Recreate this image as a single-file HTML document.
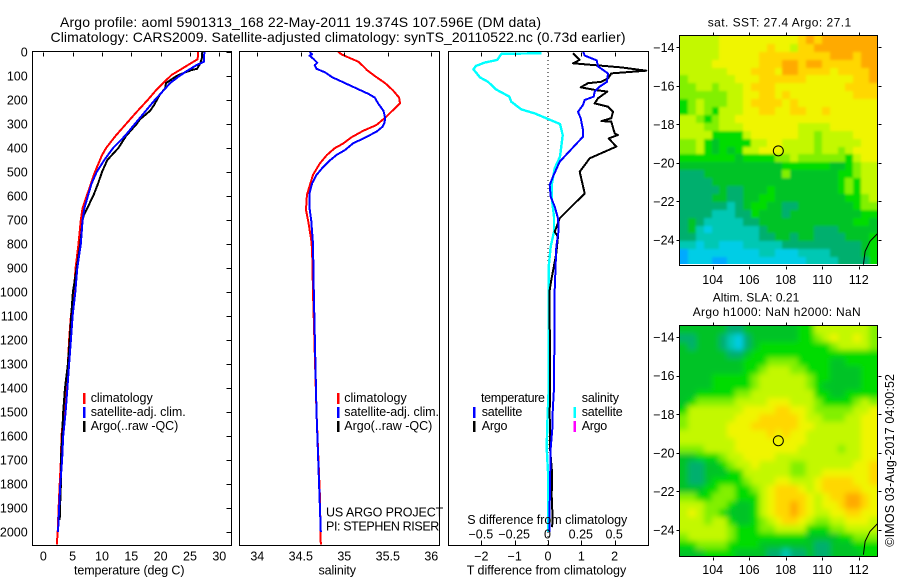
<!DOCTYPE html>
<html lang="en">
<head>
<meta charset="utf-8">
<title>Argo profile 5901313_168</title>
<style>
html,body{margin:0;padding:0;background:#fff;}
svg{display:block;}
text{font-family:"Liberation Sans",sans-serif;font-size:12.5px;fill:#000;}
.frame{fill:none;stroke:#000;stroke-width:1;shape-rendering:crispEdges;}
.tick{stroke:#000;stroke-width:1;shape-rendering:crispEdges;}
.line{fill:none;stroke-width:2;shape-rendering:crispEdges;stroke-linejoin:round;}
.bar{shape-rendering:crispEdges;}
</style>
</head>
<body>
<svg id="chart" xmlns="http://www.w3.org/2000/svg" width="900" height="580" viewBox="0 0 900 580">
<defs>
<clipPath id="sst-clip"><rect x="680" y="36" width="197" height="228"/></clipPath>
<clipPath id="sla-clip"><rect x="680" y="326" width="197" height="231"/></clipPath>
<filter id="sst-soft" filterUnits="userSpaceOnUse" x="640" y="0" width="260" height="300"><feGaussianBlur stdDeviation="1.3"/></filter>
<filter id="sla-soft" filterUnits="userSpaceOnUse" x="640" y="290" width="260" height="290"><feGaussianBlur stdDeviation="3"/></filter>
</defs>
<rect x="0" y="0" width="900" height="580" fill="#fff"/>
<text x="60" y="27" style="font-size:14px" textLength="481" lengthAdjust="spacing">Argo profile: aoml 5901313_168 22-May-2011 19.374S 107.596E (DM data)</text>
<text x="50.5" y="42" style="font-size:14px" textLength="575" lengthAdjust="spacing">Climatology: CARS2009. Satellite-adjusted climatology: synTS_20110522.nc (0.73d earlier)</text>
<g clip-path="url(#sst-clip)"><g id="sst-layer" filter="url(#sst-soft)"></g></g>
<g clip-path="url(#sla-clip)"><g id="sla-layer" filter="url(#sla-soft)"></g></g>
<g id="plot-layer"></g>
<g id="axis-layer"></g>

<text x="74" y="574.5" textLength="110.5" lengthAdjust="spacing">temperature (deg C)</text>
<text x="318.5" y="574.5" textLength="37.5" lengthAdjust="spacing">salinity</text>
<text x="466.7" y="574.5" textLength="159.5" lengthAdjust="spacing">T difference from climatology</text>
<text x="467.3" y="524" textLength="160" lengthAdjust="spacing">S difference from climatology</text>

<g>
<rect class="bar" x="83" y="393" width="2.5" height="11" fill="#ff0000"/>
<rect class="bar" x="83" y="407" width="2.5" height="11" fill="#0000ff"/>
<rect class="bar" x="83" y="421" width="2.5" height="11" fill="#000"/>
<text x="90.7" y="402" textLength="62" lengthAdjust="spacing">climatology</text>
<text x="90.7" y="416" textLength="95" lengthAdjust="spacing">satellite-adj. clim.</text>
<text x="90.7" y="430" textLength="87.6" lengthAdjust="spacing">Argo(..raw -QC)</text>
</g>
<g>
<rect class="bar" x="337" y="393" width="2.5" height="11" fill="#ff0000"/>
<rect class="bar" x="337" y="407" width="2.5" height="11" fill="#0000ff"/>
<rect class="bar" x="337" y="421" width="2.5" height="11" fill="#000"/>
<text x="344.3" y="402" textLength="62.4" lengthAdjust="spacing">climatology</text>
<text x="344.3" y="416" textLength="94.7" lengthAdjust="spacing">satellite-adj. clim.</text>
<text x="344.3" y="430" textLength="88" lengthAdjust="spacing">Argo(..raw -QC)</text>
<text x="326" y="516.7" textLength="117.3" lengthAdjust="spacing">US ARGO PROJECT</text>
<text x="326" y="530.7" textLength="113.3" lengthAdjust="spacing">PI: STEPHEN RISER</text>
</g>
<g>
<text x="481" y="402" textLength="64" lengthAdjust="spacing">temperature</text>
<text x="481.7" y="416" textLength="40.6" lengthAdjust="spacing">satellite</text>
<text x="481.7" y="430" textLength="25.8" lengthAdjust="spacing">Argo</text>
<rect class="bar" x="473" y="407" width="2.5" height="11" fill="#0000ff"/>
<rect class="bar" x="473" y="421" width="2.5" height="11" fill="#000"/>
<text x="581.7" y="402" textLength="37.3" lengthAdjust="spacing">salinity</text>
<text x="581.7" y="416" textLength="41" lengthAdjust="spacing">satellite</text>
<text x="581.7" y="430" textLength="25.5" lengthAdjust="spacing">Argo</text>
<rect class="bar" x="573.3" y="407" width="2.5" height="11" fill="#00ffff"/>
<rect class="bar" x="573.3" y="421" width="2.5" height="11" fill="#ff00ff"/>
</g>

<text x="707.7" y="26.3" style="font-size:12px" textLength="143.5" lengthAdjust="spacing">sat. SST: 27.4  Argo: 27.1</text>
<text x="712.7" y="301.7" style="font-size:12px" textLength="86.6" lengthAdjust="spacing">Altim. SLA: 0.21</text>
<text x="692.7" y="316" style="font-size:12px" textLength="168" lengthAdjust="spacing">Argo h1000: NaN h2000: NaN</text>
<text transform="translate(894,546.7) rotate(-90)" x="0" y="0" textLength="172.7" lengthAdjust="spacing">©IMOS 03-Aug-2017 04:00:52</text>
</svg>

<script>
// ---- profile data ----
const tempClimDepth = [0,30,45,70,95,130,160,200,250,300,350,400,430,500,550,600,650,700,800,900,1000,1100,1200,1300,1400,1500,1600,1700,1800,1900,2000,2052];
const tempClim = [26.4,26.3,25.3,23.6,21.9,20.4,19.2,17.8,15.9,14.1,12.3,10.7,10,8.8,8.1,7.4,6.7,6.4,6,5.5,5.2,4.7,4.4,4.2,4,3.5,3.1,3,2.8,2.6,2.45,2.3];
const tempSatDepth = [0,40,55,80,100,130,160,200,250,300,350,400,450,500,550,600,650,700,800,900,1000,1100,1200,1300,1400,1500,1600,1700,1800,1900,2000];
const tempSat = [27.45,27.4,26.1,24.4,23.2,21.6,20.5,19,17.3,15.6,13.9,11.9,10.4,9.1,8.2,7.6,7,6.7,6.4,5.8,5.45,5,4.7,4.4,4.1,3.8,3.4,3.2,2.9,2.7,2.5];
const tempArgoDepth = [0,30,50,70,75,85,100,130,150,180,220,245,280,300,350,400,450,500,550,600,650,680,700,800,900,1000,1100,1200,1300,1400,1500,1600,1700,1800,1900,1950];
const tempArgo = [27.1,27,26.7,26.2,25.3,24.15,22.7,20.9,20.8,19.8,18.9,18.2,16.5,15.9,14.1,12.8,10.9,10,9.3,8.5,7.5,6.9,6.7,6.3,5.7,5.05,4.75,4.5,4.2,3.7,3.4,3.2,3,3,2.85,2.8];

const salClimDepth = [0,10,20,40,60,75,100,130,160,190,214,242,267,304,328,356,381,401,429,464,512,547,596,658,714,783,825,1000,1500,1850,2052];
const salClim = [34.93,34.97,35.03,35.16,35.22,35.26,35.35,35.47,35.56,35.63,35.64,35.56,35.49,35.37,35.22,35.08,34.99,34.89,34.8,34.72,34.64,34.61,34.57,34.56,34.59,34.62,34.63,34.64,34.68,34.72,34.73];
const salSatDepth = [0,10,15,30,45,55,70,85,105,120,140,155,175,190,215,245,276,297,311,332,360,381,408,429,450,478,512,547,589,650,700,750,800,1000,1500,2000];
const salSat = [34.6,34.63,34.6,34.65,34.69,34.66,34.68,34.78,34.86,34.95,35.07,35.16,35.28,35.35,35.39,35.45,35.47,35.46,35.44,35.37,35.22,35.1,35.01,34.91,34.84,34.76,34.68,34.63,34.6,34.6,34.62,34.63,34.64,34.65,34.68,34.73];

const dTSatDepth = [0,15,35,60,89,124,144,165,186,200,221,249,276,325,353,457,519,554,603,644,693,742,811,992,1100,1200,1300,1400,1500,1550,1650,1800,2000];
const dTSat = [1.06,1.1,1.46,1.5,1.8,1.77,1.55,1.4,1.37,1.1,1.05,0.9,0.98,1.05,1.05,0.35,0.15,0.05,0.08,0.2,0.3,0.32,0.25,0.2,0.2,0.2,0.18,0.18,0.14,0.14,0.08,0.06,0.04];
const dTArgoDepth = [5,33,47,64,78,89,110,124,130,147,158,165,193,214,228,249,276,288,290,339,346,360,394,443,499,589,617,693,749,769,839,950,992,1100,1400,1500,1650,1750,1850,1950,1980];
const dTArgo = [0.75,0.95,0.75,2.2,2.95,1.9,1.8,1.6,1.2,0.98,1.4,1.78,1.5,1.4,1.8,1.95,1.9,1.6,1.9,2,2.1,1.82,2.05,1.25,0.95,1.1,0.9,0.35,0.2,0.3,0.25,0.1,0.05,0.05,0.06,0.05,0.06,0.12,0.11,0.14,0.12];
const dSSatDepth = [5,8,33,44,58,72,106,124,156,186,207,239,256,279,300,346,394,436,485,547,617,686,749,811,894,992,1400,1550,1650,1750,1900,2000];
const dSSat = [-0.05,-0.35,-0.38,-0.475,-0.54,-0.56,-0.51,-0.45,-0.39,-0.29,-0.275,-0.2,-0.1,0,0.09,0.11,0.1,0.09,0.05,0.03,0.03,0.045,0.045,0.02,0.005,0.005,0.005,-0.005,-0.01,0,0,0];

// ---- tick labels ----
const depthTicks = [0,100,200,300,400,500,600,700,800,900,1000,1100,1200,1300,1400,1500,1600,1700,1800,1900,2000];
const tempTicks = [0,5,10,15,20,25,30];
const salTicks = [34,34.5,35,35.5,36];
const dTTicks = [-2,-1,0,1,2];
const dSTicks = [-0.5,-0.25,0,0.25,0.5];
const lonTicks = [104,106,108,110,112];
const latTicks = [-14,-16,-18,-20,-22,-24];
const profileLon = [107.596];
const profileLat = [-19.374];
const coastLons = [113.03,112.62,112.35,112.26];
const coastLats = [-23.67,-24.07,-24.59,-25.28];

// ---- heat map values: colour-scale level per cell, north to south ----
const sstGrid = [
[7,7,7,7,7,8,8,8,8,8,8,8,8,8,8,9,10,9,10,10,10,10,10,10,10],
[7,7,7,7,7,8,8,8,8,8,8,9,8,8,7,9,9,10,10,10,10,10,10,10,10],
[7,7,7,7,7,8,8,8,8,8,9,9,9,9,9,9,9,9,9,10,10,10,9,10,10],
[7,7,7,7,8,8,8,8,8,8,9,9,9,10,10,9,10,10,9,9,9,9,9,10,10],
[7,7,7,7,7,7,8,8,8,9,9,9,8,10,10,9,9,9,9,8,9,9,9,9,10],
[6,7,7,7,7,7,7,8,8,8,9,9,9,9,9,9,8,8,8,8,8,8,9,9,10],
[6,6,7,7,6,7,7,7,8,9,9,9,8,8,8,8,8,8,8,8,8,9,9,9,9],
[6,6,6,6,6,6,7,7,8,8,9,9,8,9,8,8,8,8,8,8,8,8,9,9,9],
[5,6,7,6,6,6,7,7,8,9,9,9,9,8,9,8,8,8,8,8,8,8,8,8,8],
[5,6,7,6,5,7,7,7,8,8,9,9,8,8,9,9,8,8,9,8,8,8,8,8,8],
[7,7,6,5,6,7,7,8,8,8,8,8,8,8,8,8,8,8,8,8,8,8,8,8,8],
[7,7,7,6,6,7,7,7,8,8,8,8,8,8,8,7,7,7,7,8,8,8,8,8,8],
[7,7,7,7,5,5,5,5,7,8,8,8,8,8,8,7,7,6,7,7,7,7,8,8,8],
[6,6,7,5,4,5,5,5,5,7,7,8,8,7,7,7,7,6,7,7,7,7,7,8,8],
[6,6,7,5,4,5,4,5,7,7,8,8,8,7,7,7,7,6,7,7,6,7,8,8,8],
[5,5,5,5,5,5,5,4,5,5,5,5,6,6,7,6,6,6,6,6,6,5,7,8,8],
[4,4,4,4,4,4,4,4,4,4,4,4,4,5,5,5,5,5,5,4,4,5,6,7,7],
[3,3,3,4,4,4,4,4,4,4,4,4,4,6,4,4,4,4,4,4,5,5,6,7,7],
[3,3,3,3,4,4,4,4,4,4,4,4,4,4,4,4,4,4,4,4,5,6,5,7,7],
[3,3,3,3,3,4,3,3,4,4,4,5,4,4,4,4,4,4,4,4,5,6,5,7,7],
[3,3,3,3,4,4,3,3,4,4,5,5,4,4,4,4,4,4,4,4,4,5,5,6,7],
[3,3,3,3,3,3,2,3,4,5,5,4,4,3,3,4,4,4,4,4,4,4,5,6,6],
[3,3,3,3,2,2,2,3,3,5,4,4,4,3,4,4,4,4,4,4,4,4,4,5,5],
[3,4,3,2,2,2,2,2,3,3,4,4,4,4,4,4,4,4,4,4,4,4,5,5,4],
[3,4,2,1,2,2,2,2,2,2,3,4,4,4,4,4,4,3,3,3,4,4,4,4,4],
[3,3,2,2,2,2,2,2,2,2,3,3,4,4,3,4,4,3,3,3,3,4,4,4,5],
[2,2,1,2,2,1,1,1,2,2,2,2,2,3,3,3,3,3,3,3,3,3,3,4,5],
[0,1,1,1,1,1,1,1,1,1,2,2,1,1,1,2,2,2,2,3,3,3,3,4,5],
[0,1,1,1,0,0,1,1,1,1,1,1,1,1,1,1,2,2,2,2,3,3,3,3,5]
];
const slaGrid = [
[4,4,4,4,4,4,3,3,4,4,4,4,4,4,4,5,5,7,7,7,7,7,7,7,6],
[3,3,4,4,4,3,2,1,3,4,4,4,4,4,4,5,5,6,7,8,7,7,8,7,6],
[4,3,4,4,4,3,2,1,3,4,5,5,5,5,5,5,5,5,5,6,7,7,7,7,6],
[4,4,4,4,4,4,3,3,4,5,5,5,5,5,5,5,5,5,5,5,5,5,5,5,5],
[4,4,4,4,4,4,4,4,5,5,5,6,6,6,6,5,5,5,5,4,4,5,5,5,5],
[4,4,4,4,4,4,4,4,5,5,6,7,7,7,6,6,5,5,5,4,4,4,4,5,5],
[4,4,4,4,5,5,5,5,5,6,7,7,7,7,7,7,6,5,5,4,4,4,4,5,5],
[4,4,4,4,5,5,5,5,5,6,7,7,7,7,7,7,6,5,4,4,4,4,4,5,5],
[4,4,5,5,5,5,5,6,6,7,7,7,7,7,7,7,7,5,5,4,4,5,5,5,5],
[4,5,6,6,6,6,6,7,7,7,7,8,8,8,7,7,7,6,5,5,5,5,6,7,6],
[5,7,7,7,7,7,7,7,8,8,8,8,9,9,8,8,7,6,6,6,6,6,7,7,8],
[6,7,7,7,7,7,7,8,8,8,9,9,9,9,9,8,7,7,6,6,6,7,7,8,8],
[6,7,7,7,7,7,8,8,8,9,9,9,9,9,9,8,8,7,7,7,7,7,7,8,8],
[7,7,7,7,7,7,8,8,8,8,8,9,8,9,8,8,7,7,7,7,7,7,7,8,8],
[7,7,7,7,7,7,7,8,8,8,8,8,8,8,8,8,7,7,7,7,7,7,7,8,8],
[6,6,6,7,7,7,7,8,8,8,8,8,8,8,8,7,7,7,7,7,6,7,7,8,8],
[4,4,5,5,5,6,7,7,8,8,8,8,7,7,7,7,7,7,7,7,7,7,7,8,8],
[4,3,3,4,4,5,6,7,7,8,7,7,7,7,6,6,7,7,7,7,7,7,8,8,9],
[4,3,3,4,4,4,5,5,7,7,7,7,7,7,6,6,7,7,8,8,8,8,8,8,9],
[4,3,3,4,5,5,5,5,6,7,7,7,8,8,7,7,7,8,9,9,9,9,8,8,9],
[4,4,4,5,5,6,6,5,5,6,7,8,9,9,9,8,7,8,9,9,9,9,9,8,8],
[6,6,5,5,6,6,6,5,5,5,7,8,9,9,9,9,8,7,8,9,9,10,10,9,8],
[7,7,7,6,6,6,5,4,4,5,7,8,9,9,10,9,8,7,8,8,9,10,10,9,8],
[7,8,7,6,6,5,4,4,4,5,7,8,9,9,10,9,8,7,7,8,8,9,9,8,8],
[7,7,7,6,7,7,5,4,4,5,6,7,8,9,9,8,7,6,6,7,7,8,8,8,7],
[7,7,7,7,7,7,6,5,5,5,6,6,7,7,7,7,5,5,5,6,6,7,7,7,7],
[6,7,7,7,7,7,6,5,5,5,5,5,5,5,5,5,4,4,4,4,5,5,6,6,6],
[5,5,6,6,6,6,5,5,5,5,4,4,4,4,4,4,4,3,3,4,4,4,5,5,5],
[4,4,4,5,5,5,5,4,4,4,4,3,3,2,3,3,4,3,3,4,4,4,4,5,5]
];

// ---- geometry and axis functions ----
const NS = 'http://www.w3.org/2000/svg';
const sstLayer = document.getElementById('sst-layer');
const slaLayer = document.getElementById('sla-layer');
const plotLayer = document.getElementById('plot-layer');
const axisLayer = document.getElementById('axis-layer');
const TOP = 52, BOTTOM = 545;
const depthY = d => TOP + 0.24 * d;
const tempX = v => 43.3 + 5.867 * v;
const salX = v => 257.3 + 87 * (v - 34);
const dTX = v => 548 + 33.33 * v;
const dSX = v => 548 + 133.3 * v;
const lonX = v => 712.7 + 18.25 * (v - 104);
const sstLatY = v => 47.3 - 19.27 * (v + 14);
const slaLatY = v => 337 - 19.3 * (v + 14);

function mk(tag, attrs, parent, txt) {
  const el = document.createElementNS(NS, tag);
  for (const k in attrs) el.setAttribute(k, attrs[k]);
  if (txt !== undefined) el.textContent = txt;
  parent.appendChild(el);
  return el;
}
function fmt(v) { return String(v).replace('-', '\u2212'); }

// ---- heat maps ----
const palette = [[0,170,255],[0,205,230],[0,200,180],[0,175,110],[0,195,40],[0,220,0],[130,240,0],[195,248,0],[240,245,0],[255,215,0],[255,170,0]];
function levelColor(v) {
  const i = Math.max(0, Math.min(9, Math.floor(v)));
  const f = Math.max(0, Math.min(1, v - i));
  const a = palette[i], b = palette[i + 1];
  return 'rgb(' + a.map((c, k) => Math.round(c + (b[k] - c) * f)).join(',') + ')';
}
function drawHeat(grid, x0, x1, y0, y1, parent, cellName) {
  const rows = grid.length, cols = grid[0].length;
  const PAD = 14; // edge cells run past the clip so the softening does not fade at the border
  grid.forEach((row, r) => {
    row.forEach((v, c) => {
      const xa = c === 0 ? x0 - PAD : Math.round(x0 + (x1 - x0) * c / cols);
      const xb = c === cols - 1 ? x1 + PAD : Math.round(x0 + (x1 - x0) * (c + 1) / cols);
      const ya = r === 0 ? y0 - PAD : Math.round(y0 + (y1 - y0) * r / rows);
      const yb = r === rows - 1 ? y1 + PAD : Math.round(y0 + (y1 - y0) * (r + 1) / rows);
      const el = mk('rect', {x: xa, y: ya, width: xb - xa, height: yb - ya, fill: levelColor(v), 'shape-rendering': 'crispEdges'}, parent);
      
      
    });
  });
}
drawHeat(sstGrid, 680, 877, 36, 265, sstLayer, 'sst-cell');
drawHeat(slaGrid, 680, 877, 326, 557, slaLayer, 'sla-cell');

// ---- profile lines ----
function drawLine(depths, values, xFn, color, name, width) {
  const pts = values.map((v, i) => xFn(v).toFixed(1) + ',' + depthY(depths[i]).toFixed(1)).join(' ');
  const el = mk('polyline', {class: 'line', points: pts, stroke: color, style: 'stroke-width:' + (width || 2)}, plotLayer);
  
  
}
drawLine(tempClimDepth, tempClim, tempX, '#ff0000', 'temperature-climatology-line');
drawLine(tempArgoDepth, tempArgo, tempX, '#000000', 'temperature-argo-line');
drawLine(tempSatDepth, tempSat, tempX, '#0000ff', 'temperature-satellite-line');
drawLine(salClimDepth, salClim, salX, '#ff0000', 'salinity-climatology-line');
drawLine(salSatDepth, salSat, salX, '#0000ff', 'salinity-satellite-line');

const zeroLine = mk('line', {x1: dTX(0), x2: dTX(0), y1: TOP, y2: BOTTOM, stroke: '#000', 'stroke-dasharray': '1 3', 'stroke-width': 1}, plotLayer);


drawLine(dSSatDepth, dSSat, dSX, '#00ffff', 's-difference-satellite-line', 2.4);
drawLine(dTArgoDepth, dTArgo, dTX, '#000000', 't-difference-argo-line');
drawLine(dTSatDepth, dTSat, dTX, '#0000ff', 't-difference-satellite-line');

// ---- frames, ticks, labels ----
function frame(x0, x1, y0, y1, name) {
  const el = mk('rect', {class: 'frame', x: x0, y: y0, width: x1 - x0, height: y1 - y0}, axisLayer);
  
  
}
frame(32.5, 231.5, 51.5, 545.5, 'temperature-panel-frame');
frame(239.5, 439.5, 51.5, 545.5, 'salinity-panel-frame');
frame(448.5, 648.5, 51.5, 545.5, 'difference-panel-frame');
frame(679.5, 877.5, 35.5, 265.5, 'sst-map-frame');
frame(679.5, 877.5, 325.5, 556.5, 'sla-map-frame');

function tick(x1, y1, x2, y2, name) {
  const el = mk('line', {class: 'tick', x1: Math.round(x1) + 0.5, x2: Math.round(x2) + 0.5, y1: Math.round(y1) + 0.5, y2: Math.round(y2) + 0.5}, axisLayer);
  
  
}
function label(x, y, str, anchor, name) {
  const el = mk('text', {x: x, y: y, 'text-anchor': anchor}, axisLayer, str);
  
  
}

depthTicks.forEach(d => {
  tick(226, depthY(d), 231, depthY(d), 'depth-tick');
  label(27.7, depthY(d) + 4.6, String(d), 'end', 'depth-tick-label');
});
tempTicks.forEach(v => {
  tick(tempX(v), 52, tempX(v), 56, 'temperature-tick');
  label(tempX(v), 560.3, String(v), 'middle', 'temperature-tick-label');
});
salTicks.forEach(v => {
  tick(salX(v), 52, salX(v), 56, 'salinity-tick');
  label(salX(v), 560.3, String(v), 'middle', 'salinity-tick-label');
});
dTTicks.forEach(v => {
  tick(dTX(v), 52, dTX(v), 56, 't-difference-tick');
  tick(dTX(v), 540, dTX(v), 545, 't-difference-tick');
  label(dTX(v), 560.3, fmt(v), 'middle', 't-difference-tick-label');
});
dSTicks.forEach(v => {
  label(dSX(v) - 0.5, 538.7, fmt(v), 'middle', 's-difference-tick-label');
});

lonTicks.forEach(v => {
  tick(lonX(v), 32, lonX(v), 35, 'longitude-tick');
  tick(lonX(v), 266, lonX(v), 269, 'longitude-tick');
  tick(lonX(v), 322, lonX(v), 325, 'longitude-tick');
  tick(lonX(v), 557, lonX(v), 560, 'longitude-tick');
  label(lonX(v), 284, String(v), 'middle', 'sst-longitude-label');
  label(lonX(v), 574, String(v), 'middle', 'sla-longitude-label');
});
latTicks.forEach(v => {
  tick(676, sstLatY(v), 679, sstLatY(v), 'latitude-tick');
  tick(878, sstLatY(v), 881, sstLatY(v), 'latitude-tick');
  tick(676, slaLatY(v), 679, slaLatY(v), 'latitude-tick');
  tick(878, slaLatY(v), 881, slaLatY(v), 'latitude-tick');
  label(674.5, sstLatY(v) + 4.6, fmt(v), 'end', 'sst-latitude-label');
  label(674.5, slaLatY(v) + 4.6, fmt(v), 'end', 'sla-latitude-label');
});

// ---- coastline and profile marker ----
const coast1 = mk('polyline', {points: coastLons.map((v, i) => lonX(v).toFixed(1) + ',' + sstLatY(coastLats[i]).toFixed(1)).join(' '), fill: 'none', stroke: '#000', 'stroke-width': 1}, axisLayer);


const coast2 = mk('polyline', {points: coastLons.map((v, i) => lonX(v).toFixed(1) + ',' + slaLatY(coastLats[i]).toFixed(1)).join(' '), fill: 'none', stroke: '#000', 'stroke-width': 1}, axisLayer);


const marker1 = mk('circle', {cx: lonX(profileLon[0]), cy: sstLatY(profileLat[0]), r: 5, fill: 'none', stroke: '#000', 'stroke-width': 1}, axisLayer);


const marker2 = mk('circle', {cx: lonX(profileLon[0]), cy: slaLatY(profileLat[0]), r: 5, fill: 'none', stroke: '#000', 'stroke-width': 1}, axisLayer);


</script>
</body>
</html>
